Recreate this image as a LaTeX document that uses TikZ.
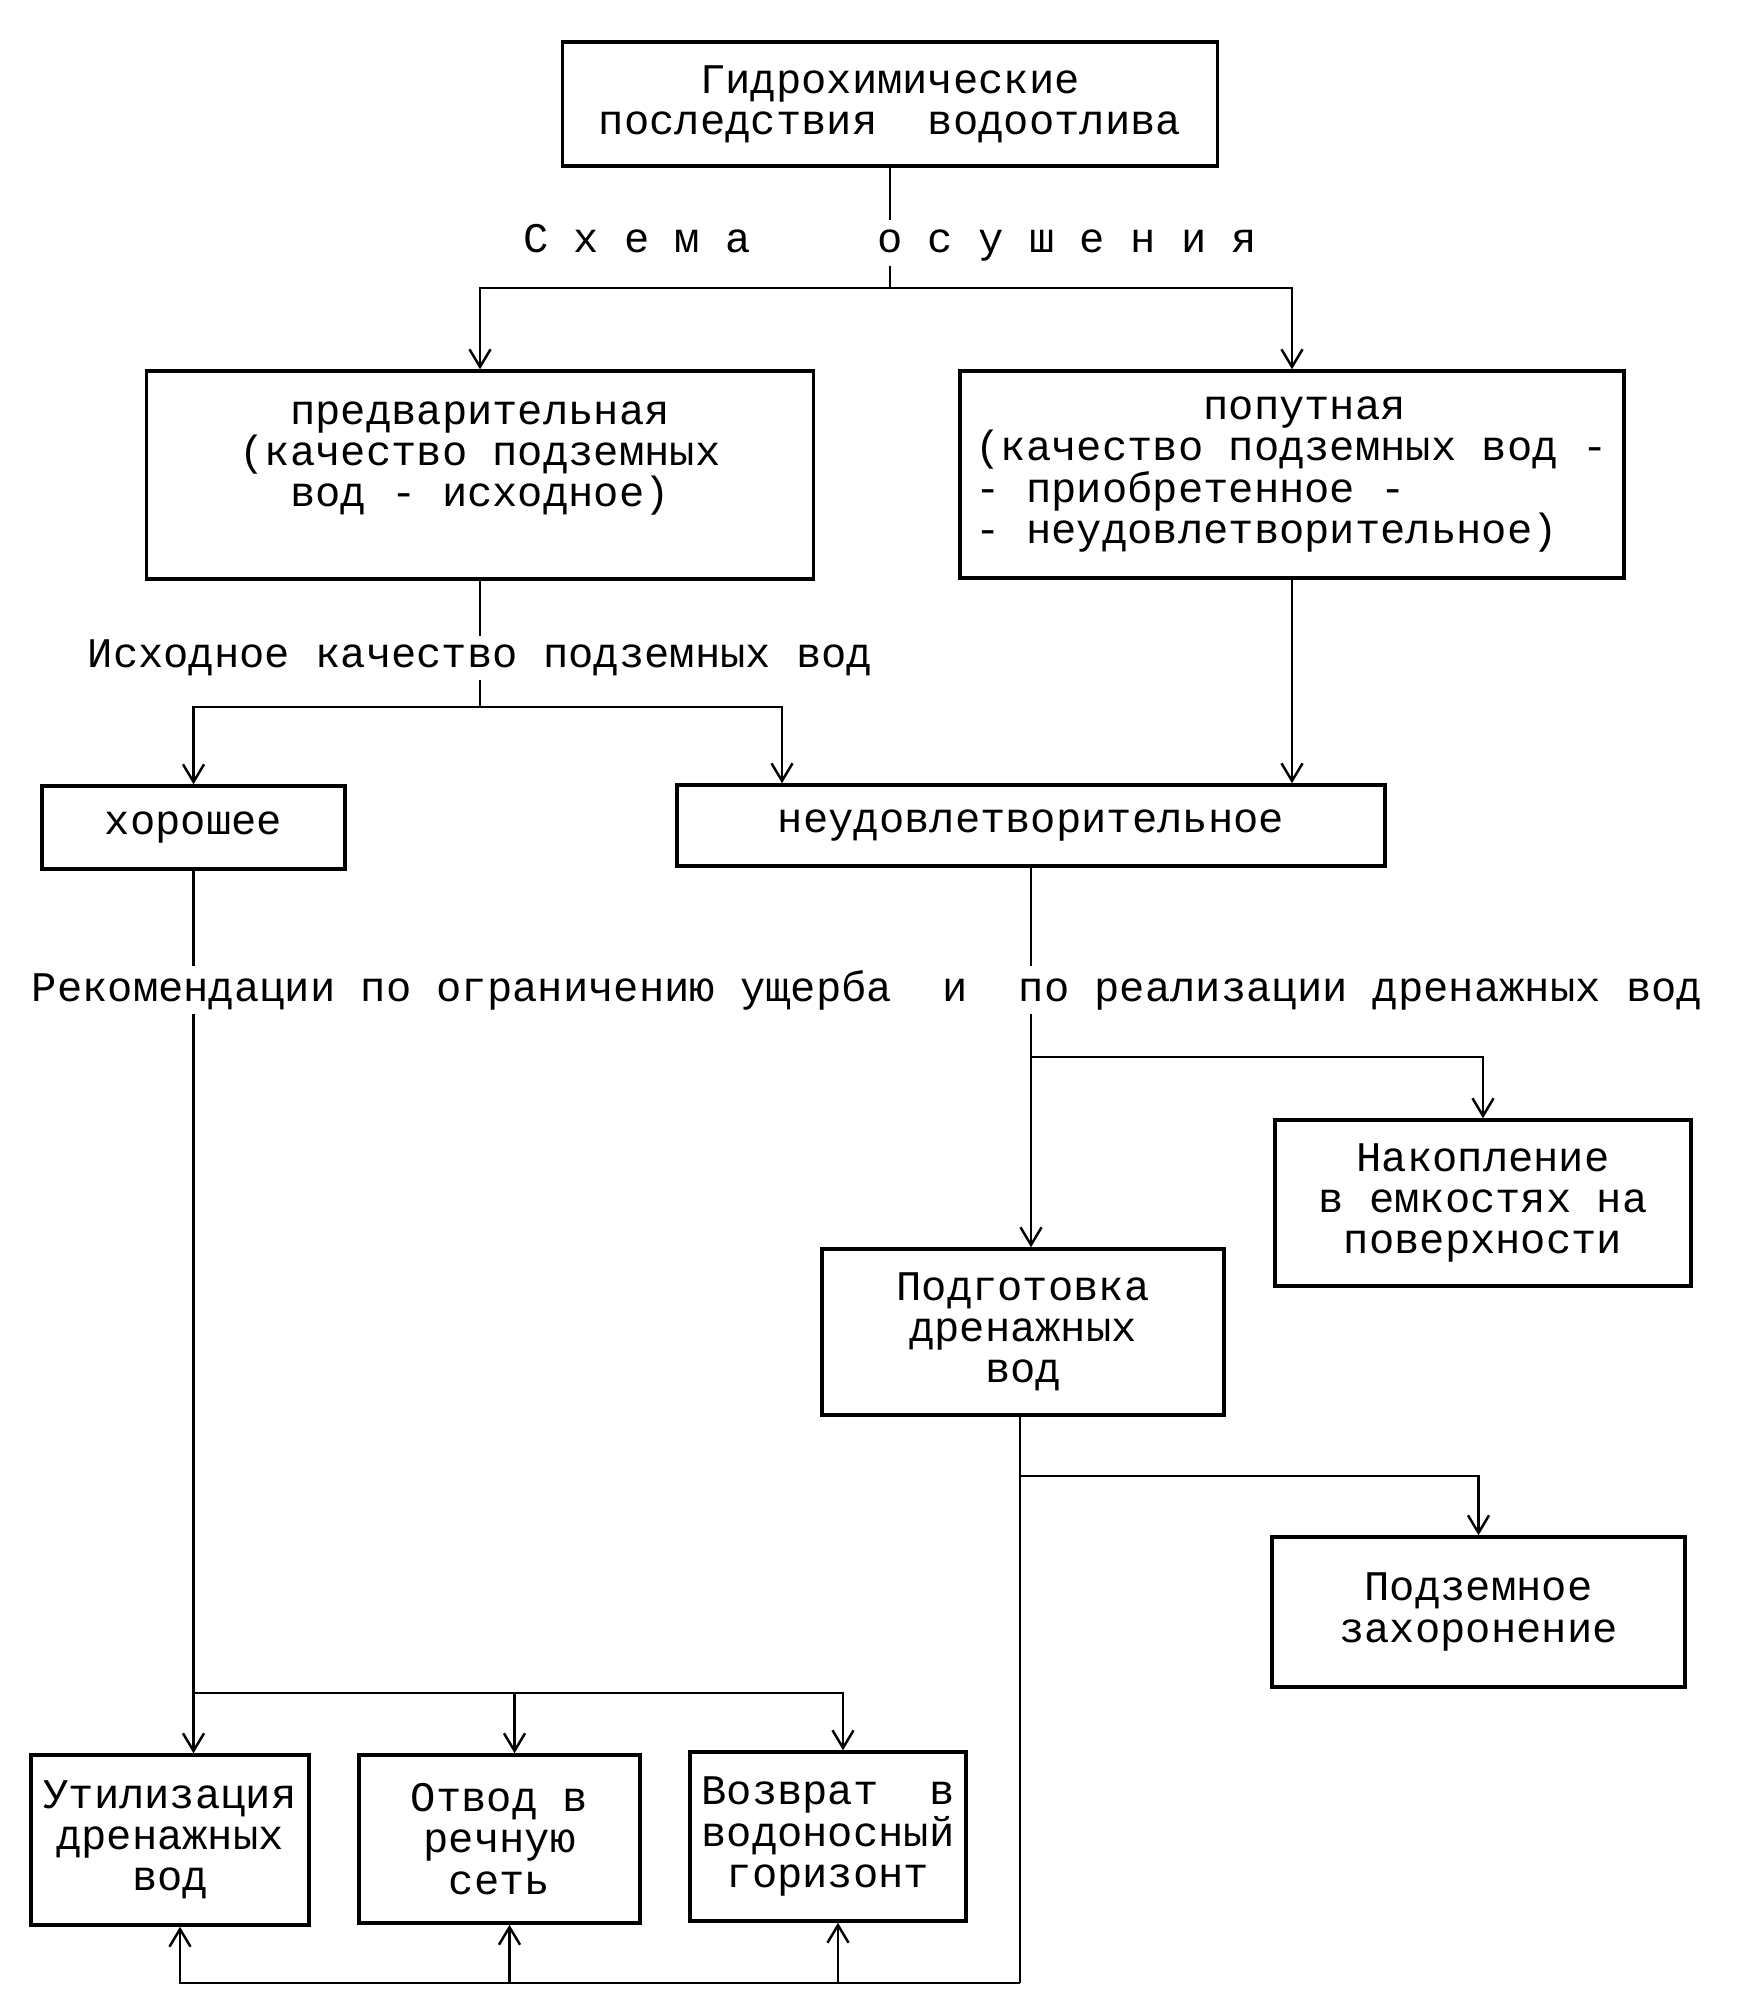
\documentclass[tikz,border=0pt]{standalone}
\usepackage{fontspec}
\setmonofont{Liberation Mono}
\usetikzlibrary{arrows.meta,positioning,calc}
\tikzset{
  blk/.style={draw=black,line width=1pt,inner sep=2pt,
    font=\ttfamily\fontsize{12}{11.7}\selectfont,align=center},
  lbl/.style={inner sep=1pt,font=\ttfamily\fontsize{12}{11.7}\selectfont},
  arr/.style={-{Straight Barb[length=5pt,width=6pt]},line width=0.7pt},
  ln/.style={line width=0.7pt},
}

\begin{document}
\begin{tikzpicture}
    \useasboundingbox (0,0) rectangle (17.6,-20.04);
    \node[blk,minimum width=6.55cm,minimum height=1.24cm] (top) at (8.9,-1.04) {Гидрохимические\\последствия~~водоотлива};
    \node[lbl] (schema) at (8.9,-2.43) {С~х~е~м~а~~~~~о~с~у~ш~е~н~и~я};

    \node[blk,minimum width=6.67cm,minimum height=2.08cm] (pre) at (4.8,-4.75) {предварительная\\(качество подземных\\вод - исходное)\\\mbox{}};
    \node[blk,minimum width=6.64cm,minimum height=2.07cm,align=left] (pop) at (12.92,-4.745) {~~~~~~~~~попутная\\(качество подземных вод -\\- приобретенное -\\- неудовлетворительное)};

    \node[lbl] (ish) at (4.8,-6.58) {Исходное качество подземных вод};
    \node[blk,minimum width=3.03cm,minimum height=0.83cm] (hor) at (1.935,-8.275) {хорошее};
    \node[blk,minimum width=7.08cm,minimum height=0.81cm] (neud) at (10.31,-8.255) {неудовлетворительное};

    \node[lbl] (rec) at (8.67,-9.9) {Рекомендации по ограничению ущерба~~и~~по реализации дренажных вод};

    \node[blk,minimum width=4.16cm,minimum height=1.66cm] (nak) at (14.83,-12.03) {Накопление\\в емкостях на\\поверхности};
    \node[blk,minimum width=4.02cm,minimum height=1.66cm] (podg) at (10.23,-13.32) {Подготовка\\дренажных\\вод};
    \node[blk,minimum width=4.13cm,minimum height=1.5cm] (zah) at (14.785,-16.12) {Подземное\\захоронение};

    \node[blk,minimum width=2.78cm,minimum height=1.7cm] (util) at (1.7,-18.4) {Утилизация\\дренажных\\вод};
    \node[blk,minimum width=2.81cm,minimum height=1.68cm] (otv) at (4.995,-18.39) {Отвод в\\речную\\сеть};
    \node[blk,minimum width=2.76cm,minimum height=1.69cm] (voz) at (8.28,-18.365) {Возврат~~в\\водоносный\\горизонт};

    \coordinate (j1) at (8.9,-2.88);
    \coordinate (j2) at (4.8,-7.07);
    \coordinate (j2r) at (7.82,-7.07);
    \coordinate (j3) at (1.935,-16.93);
    \coordinate (j4) at (10.31,-10.57);
    \coordinate (j5) at (10.2,-14.76);
    \coordinate (j6) at (10.2,-19.83);

    \draw[ln] (top) -- (schema); \draw[ln] (schema) -- (j1);
    \draw[arr] (j1) -| (pre); \draw[arr] (j1) -| (pop);
    \draw[ln] (pre) -- (ish); \draw[ln] (ish) -- (j2);
    \draw[arr] (j2) -| (hor); \draw[arr] (j2) -| (neud.north -| j2r);
    \draw[arr] (pop) -- (pop |- neud.north);

    \draw[ln] (hor) -- (hor |- rec.north); \draw[ln] (hor |- rec.south) -- (j3);
    \draw[arr] (j3) -- (j3 |- util.north);
    \draw[arr] (j3) -| ([xshift=1.5mm]voz.north);
    \draw[arr] ([xshift=1.5mm]otv.north |- j3) -- ([xshift=1.5mm]otv.north);

    \draw[ln] (neud) -- (neud |- rec.north); \draw[ln] (neud |- rec.south) -- (j4);
    \draw[arr] (j4) -| (nak); \draw[arr] (j4) -- (j4 |- podg.north);
    \draw[ln] (podg.south -| j5) -- (j5); \draw[arr] (j5) -| (zah);
    \draw[ln] (j5) -- (j6);
    \draw[arr] (j6) -| ([xshift=1mm]util.south);
    \draw[arr] ([xshift=1mm]otv.south |- j6) -- ([xshift=1mm]otv.south);
    \draw[arr] ([xshift=1mm]voz.south |- j6) -- ([xshift=1mm]voz.south);
\end{tikzpicture}
\end{document}
